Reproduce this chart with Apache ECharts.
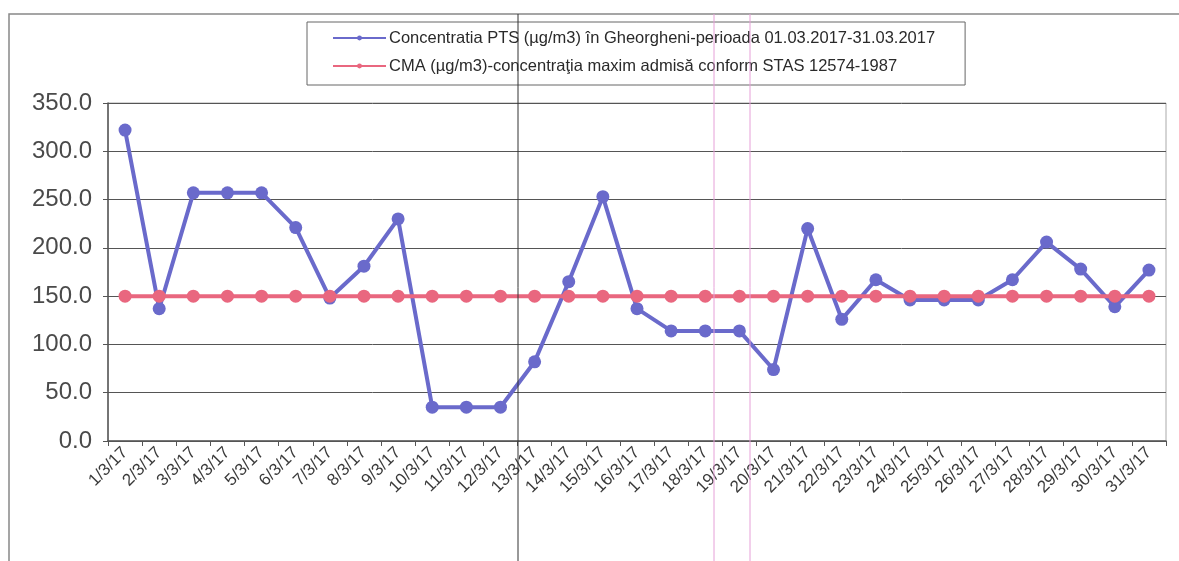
<!DOCTYPE html>
<html>
<head>
  <meta charset="UTF-8">
  <style>
    body { margin: 0; background: #fff; }
  </style>
  <script src="https://cdn.jsdelivr.net/npm/echarts@6/dist/echarts.min.js"></script>
</head>
<body>
  <div id="chart" style="width: 1179px; height: 561px;"></div>
  <script>
    const days = ['1/3/17', '2/3/17', '3/3/17', '4/3/17', '5/3/17', '6/3/17', '7/3/17', '8/3/17',
      '9/3/17', '10/3/17', '11/3/17', '12/3/17', '13/3/17', '14/3/17', '15/3/17', '16/3/17',
      '17/3/17', '18/3/17', '19/3/17', '20/3/17', '21/3/17', '22/3/17', '23/3/17', '24/3/17',
      '25/3/17', '26/3/17', '27/3/17', '28/3/17', '29/3/17', '30/3/17', '31/3/17']

    // PTS concentration
    const pts = [322, 137, 257, 257, 257, 221, 148, 181, 230, 35, 35, 35, 82, 165, 253, 137,
      114, 114, 114, 74, 220, 126, 167, 146, 146, 146, 167, 206, 178, 139, 177]

    // CMA limit
    const cma = [150, 150, 150, 150, 150, 150, 150, 150, 150, 150, 150, 150, 150, 150, 150, 150,
      150, 150, 150, 150, 150, 150, 150, 150, 150, 150, 150, 150, 150, 150, 150]

    const yTicks = [0, 350, 50]  // min, max, step

    const ptsName = 'Concentratia PTS (µg/m3) în Gheorgheni-perioada 01.03.2017-31.03.2017'
    const cmaName = 'CMA (µg/m3)-concentraţia maxim admisă conform STAS 12574-1987'

    const myChart = echarts.init(document.getElementById('chart'))

    const options = {
      backgroundColor: '#fff',
      animation: false,
      textStyle: { fontFamily: 'Liberation Sans, Arial, sans-serif' },
      legend: {
        left: 307,
        top: 22,
        orient: 'vertical',
        padding: [7, 30, 10, 25],
        itemGap: 10,
        itemWidth: 53,
        itemHeight: 6,
        borderColor: '#666',
        borderWidth: 1,
        borderRadius: 0,
        textStyle: { fontSize: 16.5, color: '#2a2a2a', padding: [0, 0, 0, -2], lineHeight: 18 },
        data: [ptsName, cmaName]
      },
      graphic: [
        // outer frame of the scanned chart
        { type: 'polyline', shape: { points: [[9, 561], [9, 14], [1179, 14]] },
          style: { stroke: '#888', lineWidth: 1.5, fill: null }, silent: true },
        // scan artefacts
        { type: 'line', shape: { x1: 518, y1: 14, x2: 518, y2: 561 },
          style: { stroke: '#333', lineWidth: 1 }, silent: true, z: 100 },
        { type: 'line', shape: { x1: 714, y1: 14, x2: 714, y2: 561 },
          style: { stroke: '#e6a0d8', lineWidth: 1 }, silent: true, z: 100 },
        { type: 'line', shape: { x1: 750, y1: 14, x2: 750, y2: 561 },
          style: { stroke: '#e6a0d8', lineWidth: 1 }, silent: true, z: 100 }
      ],
      grid: {
        left: 108,
        right: 13,
        top: 103,
        bottom: 120,
        show: true,
        borderColor: '#aaa',
        borderWidth: 1
      },
      xAxis: {
        type: 'category',
        data: days,
        boundaryGap: true,
        axisLine: { lineStyle: { color: '#555', width: 1.5 } },
        axisTick: { show: true, alignWithLabel: false, length: 5, lineStyle: { color: '#555' } },
        axisLabel: {
          rotate: 45,
          interval: 0,
          color: '#3a3a3a',
          fontSize: 17,
          margin: 9
        }
      },
      yAxis: {
        type: 'value',
        min: yTicks[0],
        max: yTicks[1],
        interval: yTicks[2],
        axisLine: { show: true, lineStyle: { color: '#555', width: 1.5 } },
        axisTick: { show: true, length: 5, lineStyle: { color: '#555' } },
        splitLine: { lineStyle: { color: '#555', width: 1 } },
        axisLabel: {
          color: '#4a4a4a',
          fontSize: 24,
          margin: 16,
          formatter: v => v.toFixed(1)
        }
      },
      series: [
        {
          name: ptsName,
          type: 'line',
          data: pts,
          symbol: 'circle',
          symbolSize: 13,
          z: 3,
          itemStyle: { color: '#6a6acb' },
          lineStyle: { color: '#6a6acb', width: 4 }
        },
        {
          name: cmaName,
          type: 'line',
          data: cma,
          symbol: 'circle',
          symbolSize: 13,
          z: 4,
          itemStyle: { color: '#e9677f' },
          lineStyle: { color: '#e9677f', width: 4 }
        }
      ]
    }

    myChart.setOption(options)
  </script>
</body>
</html>
